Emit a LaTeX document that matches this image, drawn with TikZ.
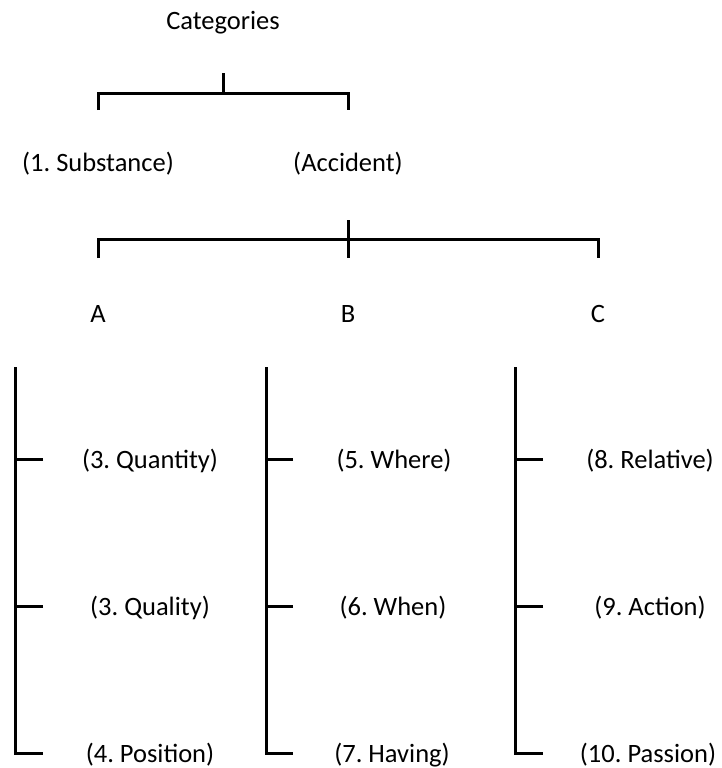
\documentclass[tikz,border=0pt]{standalone}
\usepackage{fontspec}
\setmainfont{Carlito}
\frenchspacing
\begin{document}
\begin{tikzpicture}[x=1pt,y=-1pt,
  lbl/.style={anchor=base,inner sep=0pt,font=\fontsize{26.5}{30}\selectfont},
  rule/.style={line width=3pt,line cap=butt,line join=miter}]
\useasboundingbox (0,0) rectangle (721,768);

% Top level
\node[lbl] (cat) at (223,30) {Categories};
\node[lbl] (sub) at (98,171) {(1. Substance)};
\node[lbl] (acc) at (348,171) {(Accident)};

% Bracket: Categories -> Substance / Accident
\coordinate (b1top) at (223,73);
\coordinate (b1mid) at (223,93);
\coordinate (b1l) at (98,110);
\coordinate (b1r) at (348,110);
\draw[rule] (b1top) -- (b1mid);
\draw[rule] (b1l) |- (b1mid) -| (b1r);

% Groups A, B, C
\node[lbl] (A) at (98,322) {A};
\node[lbl] (B) at (348,322) {B};
\node[lbl] (C) at (598,322) {C};

% Bracket: Accident -> A / B / C
\coordinate (b2top) at (348,220);
\coordinate (b2mid) at (348,239);
\coordinate (b2bot) at (348,258);
\coordinate (b2l) at (98,258);
\coordinate (b2r) at (598,258);
\draw[rule] (b2top) -- (b2bot);
\draw[rule] (b2l) |- (b2mid) -| (b2r);

% Column A
\node[lbl] (qty) at (150,468) {(3. Quantity)};
\node[lbl] (qal) at (150,615) {(3. Quality)};
\node[lbl] (pos) at (150,762) {(4. Position)};
\coordinate (Atop) at (15,367);
\coordinate (Abot) at (15,753);
\coordinate (Aq1) at (43,459);
\coordinate (Aq2) at (43,606);
\coordinate (Aq3) at (43,753);
\draw[rule] (Atop) -- (Abot) -- (Aq3);
\draw[rule] (Aq1) -- (Atop |- Aq1);
\draw[rule] (Aq2) -- (Atop |- Aq2);

% Column B
\node[lbl] (whr) at (394,468) {(5. Where)};
\node[lbl] (whn) at (393,615) {(6. When)};
\node[lbl] (hav) at (392,762) {(7. Having)};
\coordinate (Btop) at (266,367);
\coordinate (Bbot) at (266,753);
\coordinate (Bq1) at (293,459);
\coordinate (Bq2) at (293,606);
\coordinate (Bq3) at (293,753);
\draw[rule] (Btop) -- (Bbot) -- (Bq3);
\draw[rule] (Bq1) -- (Btop |- Bq1);
\draw[rule] (Bq2) -- (Btop |- Bq2);

% Column C
\node[lbl] (rel) at (650,468) {(8. Relative)};
\node[lbl] (act) at (650,615) {(9. Action)};
\node[lbl] (pas) at (648,762) {(10. Passion)};
\coordinate (Ctop) at (515,367);
\coordinate (Cbot) at (515,753);
\coordinate (Cq1) at (543,459);
\coordinate (Cq2) at (543,606);
\coordinate (Cq3) at (543,753);
\draw[rule] (Ctop) -- (Cbot) -- (Cq3);
\draw[rule] (Cq1) -- (Ctop |- Cq1);
\draw[rule] (Cq2) -- (Ctop |- Cq2);
\end{tikzpicture}
\end{document}
